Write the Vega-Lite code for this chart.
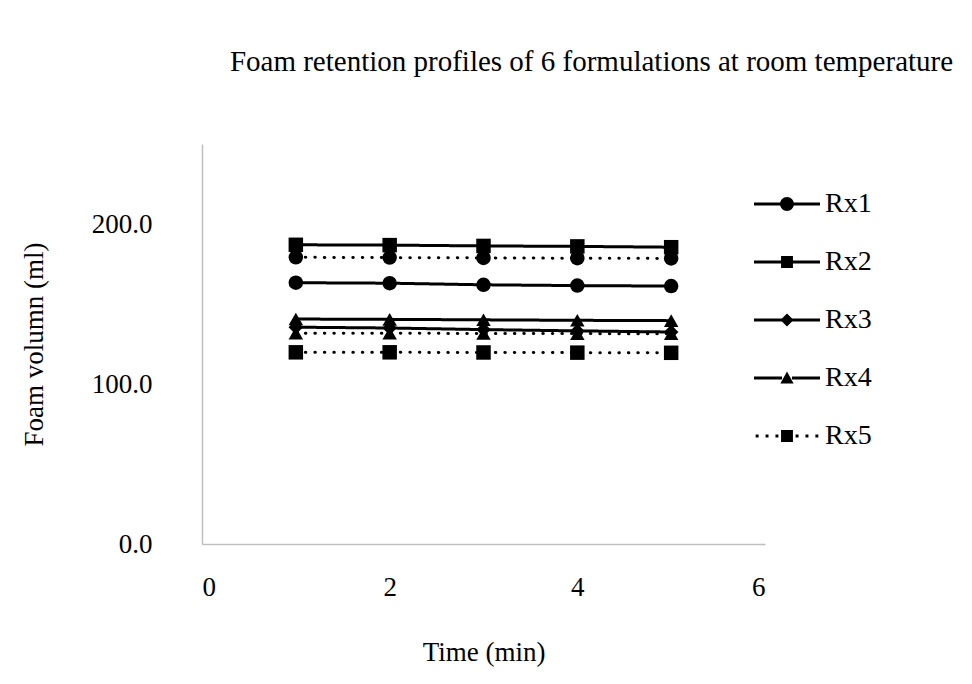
{
  "$schema": "https://vega.github.io/schema/vega-lite/v6.json",
  "width": 563,
  "height": 400,
  "autosize": {"type": "none"},
  "padding": {"left": 202, "top": 144, "right": 207, "bottom": 140},
  "background": "white",
  "config": {
    "font": "Liberation Serif",
    "view": {"stroke": null},
    "axis": {"grid": false, "domainColor": "#bfbfbf", "domainWidth": 1.5, "ticks": false, "labelFont": "Liberation Serif", "titleFont": "Liberation Serif", "labelColor": "#000000", "titleColor": "#000000", "labelFontSize": 27, "titleFontSize": 27, "titleFontWeight": "normal"}
  },
  "title": {"text": "Foam retention profiles of 6 formulations at room temperature", "font": "Liberation Serif", "fontSize": 29, "fontWeight": "normal", "color": "#000000", "offset": 67, "dx": 108},
  "data": {"values": [
    {"time": 1, "series": "Rx1", "foam": 163.3},
    {"time": 2, "series": "Rx1", "foam": 163.0},
    {"time": 3, "series": "Rx1", "foam": 162.0},
    {"time": 4, "series": "Rx1", "foam": 161.5},
    {"time": 5, "series": "Rx1", "foam": 161.2},
    {"time": 1, "series": "Rx2", "foam": 187.0},
    {"time": 2, "series": "Rx2", "foam": 186.8},
    {"time": 3, "series": "Rx2", "foam": 186.3},
    {"time": 4, "series": "Rx2", "foam": 186.0},
    {"time": 5, "series": "Rx2", "foam": 185.5},
    {"time": 1, "series": "Rx3", "foam": 135.5},
    {"time": 2, "series": "Rx3", "foam": 135.0},
    {"time": 3, "series": "Rx3", "foam": 134.0},
    {"time": 4, "series": "Rx3", "foam": 133.2},
    {"time": 5, "series": "Rx3", "foam": 132.5},
    {"time": 1, "series": "Rx4", "foam": 140.6},
    {"time": 2, "series": "Rx4", "foam": 140.4},
    {"time": 3, "series": "Rx4", "foam": 140.1},
    {"time": 4, "series": "Rx4", "foam": 139.8},
    {"time": 5, "series": "Rx4", "foam": 139.6},
    {"time": 1, "series": "Rx5", "foam": 119.8},
    {"time": 2, "series": "Rx5", "foam": 119.8},
    {"time": 3, "series": "Rx5", "foam": 119.7},
    {"time": 4, "series": "Rx5", "foam": 119.6},
    {"time": 5, "series": "Rx5", "foam": 119.5},
    {"time": 1, "series": "Rx6", "foam": 179.2},
    {"time": 2, "series": "Rx6", "foam": 179.0},
    {"time": 3, "series": "Rx6", "foam": 178.8},
    {"time": 4, "series": "Rx6", "foam": 178.6},
    {"time": 5, "series": "Rx6", "foam": 178.5},
    {"time": 1, "series": "Rx7", "foam": 131.8},
    {"time": 2, "series": "Rx7", "foam": 131.7},
    {"time": 3, "series": "Rx7", "foam": 131.6},
    {"time": 4, "series": "Rx7", "foam": 131.5},
    {"time": 5, "series": "Rx7", "foam": 131.4}
  ]},
  "encoding": {
    "x": {"field": "time", "type": "quantitative", "scale": {"domain": [0, 6], "nice": false, "zero": false}, "axis": {"values": [0, 2, 4, 6], "title": "Time (min)", "labelPadding": 30, "titlePadding": 39}},
    "y": {"field": "foam", "type": "quantitative", "scale": {"domain": [0, 250], "nice": false}, "axis": {"values": [0, 100, 200], "format": ".1f", "title": "Foam volumn (ml)", "labelPadding": 50, "titlePadding": 43}}
  },
  "layer": [
    {
      "mark": {"type": "line", "color": "black", "strokeWidth": 3, "strokeCap": "round"},
      "encoding": {
        "detail": {"field": "series"},
        "strokeDash": {"field": "series", "type": "nominal", "scale": {"domain": ["Rx1", "Rx2", "Rx3", "Rx4", "Rx5", "Rx6", "Rx7"], "range": [[1, 0], [1, 0], [1, 0], [1, 0], [0.5, 9], [0.5, 9], [0.5, 9]]}, "legend": null}
      }
    },
    {
      "mark": {"type": "point", "filled": true, "color": "black", "opacity": 1, "size": 210},
      "encoding": {
        "shape": {"field": "series", "type": "nominal", "scale": {"domain": ["Rx1", "Rx2", "Rx3", "Rx4", "Rx5", "Rx6", "Rx7"], "range": ["circle", "square", "diamond", "triangle-up", "square", "circle", "triangle-up"]}, "legend": null}
      }
    },
    {
      "mark": {"type": "point", "filled": true, "color": "black", "opacity": 0, "size": 4356},
      "encoding": {
        "shape": {"field": "series", "type": "nominal",
          "scale": {"domain": ["Rx1", "Rx2", "Rx3", "Rx4", "Rx5", "Rx6", "Rx7"],
            "range": [
              "M-1,-0.045H-0.15V0.045H-1Z M0.15,-0.045H1V0.045H0.15Z M-0.21,0A0.21,0.21 0 1,1 0.21,0A0.21,0.21 0 1,1 -0.21,0Z",
              "M-1,-0.045H-0.15V0.045H-1Z M0.15,-0.045H1V0.045H0.15Z M-0.18,-0.18H0.18V0.18H-0.18Z",
              "M-1,-0.045H-0.15V0.045H-1Z M0.15,-0.045H1V0.045H0.15Z M0,-0.2L0.2,0L0,0.2L-0.2,0Z",
              "M-1,-0.045H-0.15V0.045H-1Z M0.15,-0.045H1V0.045H0.15Z M0,-0.2L0.2,0.17H-0.2Z",
              "M-0.95,-0.045H-0.86V0.045H-0.95Z M-0.65,-0.045H-0.56V0.045H-0.65Z M-0.35,-0.045H-0.26V0.045H-0.35Z M0.26,-0.045H0.35V0.045H0.26Z M0.56,-0.045H0.65V0.045H0.56Z M0.86,-0.045H0.95V0.045H0.86Z M-0.18,-0.18H0.18V0.18H-0.18Z",
              "M-1,-0.045H-0.15V0.045H-1Z M0.15,-0.045H1V0.045H0.15Z M-0.21,0A0.21,0.21 0 1,1 0.21,0A0.21,0.21 0 1,1 -0.21,0Z",
              "M-1,-0.045H-0.15V0.045H-1Z M0.15,-0.045H1V0.045H0.15Z M0,-0.2L0.2,0.17H-0.2Z"
            ]},
          "legend": {"values": ["Rx1", "Rx2", "Rx3", "Rx4", "Rx5"], "title": null, "orient": "none", "legendX": 552, "legendY": 27, "padding": 0, "symbolOpacity": 1, "symbolFillColor": "black", "symbolStrokeWidth": 0, "symbolSize": 4356, "labelFont": "Liberation Serif", "labelFontSize": 28, "labelColor": "black", "labelOffset": 5, "rowPadding": 11}
        }
      }
    }
  ],
  "resolve": {"scale": {"shape": "independent"}, "legend": {"shape": "independent"}}
}
